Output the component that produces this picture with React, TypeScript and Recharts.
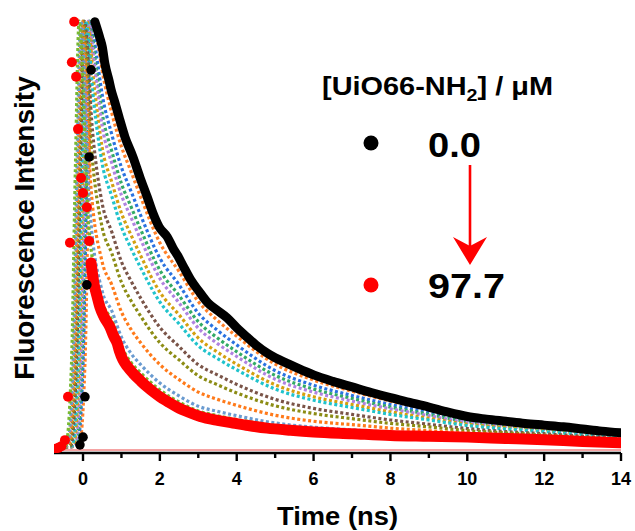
import React from 'react';
import { ComposedChart, Line, Scatter, XAxis, YAxis, ReferenceLine } from 'recharts';

// ---------- axes ----------
const X_MIN = -0.755;
const X_MAX = 14;
const Y_MIN = -0.007;
const Y_MAX = 1.0186;
const TIME_TICKS = [0, 1, 2, 3, 4, 5, 6, 7, 8, 9, 10, 11, 12, 13, 14];
const MAJOR_TICKS = [0, 2, 4, 6, 8, 10, 12, 14];

// ---------- 0.0 uM (black) ----------
const blackRiseX = [-0.08, 0.0, 0.05, 0.10, 0.16, 0.21];
const blackRiseY = [0.012, 0.03, 0.124, 0.385, 0.683, 0.886];
const blackDecayX = [0.31, 0.44, 0.5, 0.57, 0.68, 0.73, 0.83, 0.94, 1.09, 1.3, 1.48, 1.67, 1.82, 1.98, 2.19, 2.34, 2.47, 2.6, 2.8, 3.0, 3.25, 3.5, 3.75, 4.0, 4.27, 4.5, 4.79, 5.0, 5.31, 5.6, 6.0, 6.5, 7.0, 7.5, 8.0, 8.5, 9.0, 9.5, 10, 10.5, 11, 11.5, 12, 12.5, 13, 13.5, 14];
const blackDecayY = [0.998, 0.96, 0.94, 0.90, 0.86, 0.84, 0.81, 0.775, 0.73, 0.683, 0.636, 0.59, 0.552, 0.52, 0.497, 0.471, 0.452, 0.43, 0.397, 0.372, 0.343, 0.325, 0.308, 0.285, 0.263, 0.245, 0.226, 0.215, 0.202, 0.19, 0.175, 0.16, 0.147, 0.134, 0.122, 0.111, 0.100, 0.088, 0.078, 0.072, 0.067, 0.062, 0.058, 0.054, 0.049, 0.044, 0.040];

// ---------- 97.7 uM (red) ----------
const redSparseX = [-0.72, -0.64, -0.56, -0.47, -0.39, -0.34, -0.29, -0.23, -0.18, -0.13, -0.05, 0.0, 0.10, 0.16];
const redSparseY = [0.003, 0.005, 0.009, 0.023, 0.124, 0.483, 0.904, 0.998, 0.87, 0.748, 0.634, 0.599, 0.566, 0.487];
const redDecayX = [0.21, 0.29, 0.36, 0.44, 0.55, 0.7, 0.8, 0.89, 0.95, 1.04, 1.15, 1.3, 1.5, 1.67, 1.85, 2.0, 2.2, 2.45, 2.75, 3.05, 3.5, 3.9, 4.3, 4.79, 5.4, 6.0, 7, 8, 9, 10, 11, 12, 13, 14];
const redDecayY = [0.436, 0.385, 0.36, 0.333, 0.31, 0.287, 0.265, 0.249, 0.23, 0.21, 0.195, 0.179, 0.161, 0.147, 0.134, 0.124, 0.113, 0.100, 0.088, 0.078, 0.069, 0.063, 0.057, 0.051, 0.046, 0.042, 0.038, 0.034, 0.032, 0.030, 0.027, 0.024, 0.020, 0.017];

// ---------- intermediate concentrations ----------
const decayTimes = [0.5, 0.75, 1.0, 1.25, 1.5, 2.0, 2.5, 3.0, 3.5, 4.0, 5.0, 6.0, 7.0, 8.0, 9.0, 10, 11, 12, 13, 14];
const riseY = [0.004, 0.01, 0.2, 0.65, 1.0];

const orange1Early = [-0.755, -0.1, 0.05, 0.15, 0.25, 0.38];
const orange1Mid = 0.95;
const orange1Decay = [0.884, 0.785, 0.707, 0.649, 0.590, 0.483, 0.416, 0.346, 0.302, 0.265, 0.200, 0.163, 0.137, 0.114, 0.094, 0.074, 0.063, 0.055, 0.046, 0.038];

const blueEarly = [-0.755, -0.15, 0.0, 0.1, 0.2, 0.35];
const blueMid = 0.92;
const blueDecay = [0.828, 0.735, 0.659, 0.603, 0.547, 0.447, 0.385, 0.319, 0.279, 0.245, 0.185, 0.151, 0.127, 0.106, 0.088, 0.069, 0.060, 0.052, 0.044, 0.036];

const greenEarly = [-0.755, -0.18, -0.03, 0.07, 0.17, 0.33];
const greenMid = 0.9;
const greenDecay = [0.785, 0.696, 0.621, 0.567, 0.514, 0.419, 0.360, 0.299, 0.261, 0.229, 0.174, 0.142, 0.120, 0.100, 0.083, 0.066, 0.057, 0.049, 0.042, 0.034];

const purpleEarly = [-0.755, -0.21, -0.06, 0.04, 0.14, 0.32];
const purpleMid = 0.88;
const purpleDecay = [0.754, 0.668, 0.594, 0.542, 0.491, 0.400, 0.343, 0.284, 0.248, 0.218, 0.165, 0.135, 0.114, 0.096, 0.080, 0.064, 0.055, 0.048, 0.040, 0.033];

const goldEarly = [-0.755, -0.25, -0.1, 0.0, 0.1, 0.3];
const goldMid = 0.84;
const goldDecay = [0.704, 0.624, 0.552, 0.501, 0.453, 0.368, 0.315, 0.261, 0.228, 0.200, 0.152, 0.124, 0.106, 0.089, 0.074, 0.060, 0.052, 0.045, 0.038, 0.031];

const cyanEarly = [-0.755, -0.28, -0.13, -0.03, 0.07, 0.28];
const cyanMid = 0.81;
const cyanDecay = [0.667, 0.591, 0.520, 0.470, 0.425, 0.345, 0.294, 0.243, 0.213, 0.187, 0.142, 0.116, 0.099, 0.083, 0.070, 0.057, 0.049, 0.043, 0.036, 0.030];

const brownEarly = [-0.755, -0.32, -0.17, -0.07, 0.03, 0.25];
const brownMid = 0.74;
const brownDecay = [0.574, 0.508, 0.439, 0.394, 0.354, 0.286, 0.241, 0.199, 0.175, 0.153, 0.118, 0.097, 0.083, 0.070, 0.060, 0.050, 0.043, 0.038, 0.032, 0.026];

const oliveEarly = [-0.755, -0.35, -0.2, -0.1, 0.0, 0.22];
const oliveMid = 0.7;
const oliveDecay = [0.518, 0.458, 0.391, 0.348, 0.312, 0.250, 0.210, 0.173, 0.152, 0.133, 0.103, 0.085, 0.073, 0.062, 0.054, 0.045, 0.040, 0.035, 0.029, 0.024];

const orange2Early = [-0.755, -0.38, -0.23, -0.13, -0.03, 0.2];
const orange2Mid = 0.62;
const orange2Decay = [0.438, 0.385, 0.322, 0.281, 0.250, 0.199, 0.164, 0.135, 0.118, 0.104, 0.081, 0.067, 0.059, 0.051, 0.045, 0.039, 0.035, 0.030, 0.026, 0.021];

const steelEarly = [-0.755, -0.41, -0.26, -0.16, -0.06, 0.18];
const steelMid = 0.56;
const steelDecay = [0.370, 0.324, 0.263, 0.225, 0.199, 0.156, 0.126, 0.102, 0.090, 0.080, 0.063, 0.053, 0.047, 0.041, 0.037, 0.034, 0.030, 0.027, 0.022, 0.019];

const limeEarly = [-0.755, -0.45, -0.3, -0.2, -0.1, 0.15];
const limeMid = 0.52;
const limeDecay = [0.345, 0.302, 0.241, 0.204, 0.180, 0.140, 0.112, 0.091, 0.080, 0.071, 0.057, 0.047, 0.042, 0.038, 0.035, 0.032, 0.029, 0.025, 0.021, 0.018];

const FONT = '"Liberation Sans", Arial, Helvetica, sans-serif';

type Pt = { x: number; y: number };
const zip = (xs: number[], ys: number[]): Pt[] => xs.map((x, i) => ({ x, y: ys[i] }));
const buildSeries = (early: number[], mid: number, decay: number[]): Pt[] => [
  ...zip(early, [...riseY, mid]),
  ...zip(decayTimes, decay),
];

const intermediates = [
  { name: 'c1', color: '#ff7f27', data: buildSeries(orange1Early, orange1Mid, orange1Decay) },
  { name: 'c2', color: '#2a72e0', data: buildSeries(blueEarly, blueMid, blueDecay) },
  { name: 'c3', color: '#33aa66', data: buildSeries(greenEarly, greenMid, greenDecay) },
  { name: 'c4', color: '#b083e0', data: buildSeries(purpleEarly, purpleMid, purpleDecay) },
  { name: 'c5', color: '#d4a010', data: buildSeries(goldEarly, goldMid, goldDecay) },
  { name: 'c6', color: '#20c3cc', data: buildSeries(cyanEarly, cyanMid, cyanDecay) },
  { name: 'c7', color: '#7a5448', data: buildSeries(brownEarly, brownMid, brownDecay) },
  { name: 'c8', color: '#8c8c14', data: buildSeries(oliveEarly, oliveMid, oliveDecay) },
  { name: 'c9', color: '#ff7a1a', data: buildSeries(orange2Early, orange2Mid, orange2Decay) },
  { name: 'c10', color: '#6a9bd0', data: buildSeries(steelEarly, steelMid, steelDecay) },
  { name: 'c11', color: '#78b830', data: buildSeries(limeEarly, limeMid, limeDecay) },
];

const blackRise = zip(blackRiseX, blackRiseY);
const blackDecay = zip(blackDecayX, blackDecayY);
const redSparse = zip(redSparseX, redSparseY);
const redDecay = zip(redDecayX, redDecayY);

const TimeTick = (props: any) => {
  const { x, y, payload } = props;
  const v = payload.value;
  const major = MAJOR_TICKS.includes(v);
  return (
    <g>
      <line x1={x} x2={x} y1={y} y2={y + (major ? 8 : 5)} stroke="#000" strokeWidth={2.4} />
      {major && (
        <text x={x} y={y + 32} textAnchor="middle" fontSize={18} fontWeight="bold" fontFamily={FONT} fill="#000">
          {v}
        </text>
      )}
    </g>
  );
};

const dotShape = (color: string, r: number) => (p: any) => (
  <circle cx={p.cx} cy={p.cy} r={r} fill={color} stroke="none" />
);

const axisLine = { stroke: '#000', strokeWidth: 2.6 };

export default function App() {
  return (
    <div style={{ position: 'absolute', left: 0, top: 0, width: 635, height: 531, background: '#fff' }}>
      <ComposedChart width={635} height={531} margin={{ top: 13, right: 14, bottom: 0, left: 54 }}>
        <XAxis
          dataKey="x"
          type="number"
          domain={[X_MIN, X_MAX]}
          ticks={TIME_TICKS}
          interval={0}
          height={78}
          tickSize={0}
          tickMargin={0}
          tickLine={false}
          tick={<TimeTick />}
          axisLine={axisLine}
          allowDataOverflow
        />
        <XAxis xAxisId="top" orientation="top" dataKey="x" type="number" domain={[X_MIN, X_MAX]} height={0} tick={false} tickLine={false} axisLine={axisLine} allowDataOverflow />
        <YAxis dataKey="y" type="number" domain={[Y_MIN, Y_MAX]} width={0} tick={false} tickLine={false} axisLine={axisLine} allowDataOverflow />
        <YAxis yAxisId="right" orientation="right" dataKey="y" type="number" domain={[Y_MIN, Y_MAX]} width={0} tick={false} tickLine={false} axisLine={axisLine} allowDataOverflow />
        <ReferenceLine y={0} stroke="#f5a3a3" strokeWidth={2} />
        {intermediates.map((s) => (
          <Line
            key={s.name}
            data={s.data}
            dataKey="y"
            type="monotone"
            stroke={s.color}
            strokeWidth={3.2}
            strokeDasharray="3 2.5"
            dot={false}
            isAnimationActive={false}
          />
        ))}
        <Scatter data={blackRise} dataKey="y" fill="#000" shape={dotShape('#000', 4.8)} isAnimationActive={false} />
        <Line data={blackDecay} dataKey="y" type="monotone" stroke="#000" strokeWidth={9} strokeLinecap="round" strokeLinejoin="round" dot={false} isAnimationActive={false} />
        <Scatter data={redSparse} dataKey="y" fill="#ff0000" shape={dotShape('#ff0000', 5)} isAnimationActive={false} />
        <Line data={redDecay} dataKey="y" type="monotone" stroke="#ff0000" strokeWidth={11} strokeLinecap="round" strokeLinejoin="round" dot={false} isAnimationActive={false} />
      </ComposedChart>
      <svg width={635} height={531} style={{ position: 'absolute', left: 0, top: 0, pointerEvents: 'none' }}>
        <text
          transform="translate(34,228) rotate(-90)"
          textAnchor="middle"
          fontSize={28}
          fontWeight="bold"
          fontFamily={FONT}
          fill="#000"
        >
          Fluorescence Intensity
        </text>
        <text x={337.5} y={525} textAnchor="middle" fontSize={26} fontWeight="bold" fontFamily={FONT} fill="#000" textLength={121} lengthAdjust="spacingAndGlyphs">
          Time (ns)
        </text>
        <text x={322} y={95} fontSize={25} fontWeight="bold" fontFamily={FONT} fill="#000" textLength={231} lengthAdjust="spacingAndGlyphs">
          [UiO66-NH<tspan fontSize={17} dy={6}>2</tspan><tspan dy={-6}>] / μM</tspan>
        </text>
        <circle cx={371} cy={143} r={7.5} fill="#000" />
        <text x={428} y={157} fontSize={35} fontWeight="bold" fontFamily={FONT} fill="#000" textLength={53} lengthAdjust="spacingAndGlyphs">
          0.0
        </text>
        <circle cx={371} cy={285} r={7.5} fill="#ff0000" />
        <text x={428} y={298} fontSize={35} fontWeight="bold" fontFamily={FONT} fill="#000" textLength={77} lengthAdjust="spacingAndGlyphs">
          97.7
        </text>
        <line x1={470} y1={165} x2={470} y2={248} stroke="#ff0000" strokeWidth={2.6} />
        <polygon points="470,265 453,237 470,246 487,237" fill="#ff0000" />
      </svg>
    </div>
  );
}
